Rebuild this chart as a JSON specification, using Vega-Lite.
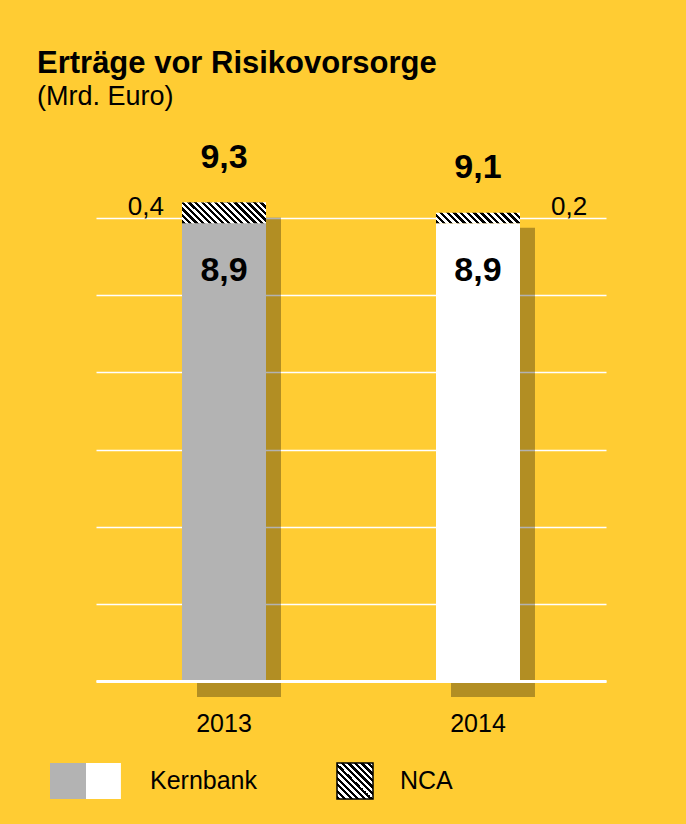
{
  "$schema": "https://vega.github.io/schema/vega-lite/v6.json",
  "autosize": {"type": "none"},
  "width": 510,
  "height": 463,
  "padding": {"left": 96, "top": 218, "right": 80, "bottom": 143},
  "background": "#FFCC33",
  "config": {"view": {"stroke": null}, "font": "Liberation Sans"},
  "title": {"text": "Erträge vor Risikovorsorge", "subtitle": "(Mrd. Euro)", "anchor": "start", "frame": "group", "dx": -59, "offset": 30, "font": "Liberation Sans", "fontSize": 31, "fontWeight": "bold", "color": "#000", "subtitleFont": "Liberation Sans", "subtitleFontSize": 27, "subtitleColor": "#000", "subtitlePadding": 4},
  "datasets": {
    "seg": [
      {"year": "2013", "segment": "Kernbank", "start": 0, "end": 8.9, "label": "8,9"},
      {"year": "2013", "segment": "NCA", "start": 8.9, "end": 9.3, "label": "0,4"},
      {"year": "2014", "segment": "Kernbank", "start": 0, "end": 8.9, "label": "8,9"},
      {"year": "2014", "segment": "NCA", "start": 8.9, "end": 9.1, "label": "0,2"}
    ],
    "tot": [
      {"year": "2013", "total": 9.3, "label": "9,3"},
      {"year": "2014", "total": 9.1, "label": "9,1"}
    ]
  },
  "encoding": {
    "x": {"field": "year", "type": "nominal", "scale": {"paddingInner": 0.6693, "paddingOuter": 0.3386},
      "axis": {"title": null, "ticks": false, "tickSize": 0, "domain": true, "domainColor": "#FFFFFF", "domainWidth": 3, "labelFontSize": 25, "labelFont": "Liberation Sans", "labelColor": "#000", "labelPadding": 50, "labelBaseline": "alphabetic", "labelAngle": 0, "zindex": 1, "grid": false}}
  },
  "layer": [
    {
      "data": {"name": "tot"},
      "mark": {"type": "bar", "fill": "#000", "fillOpacity": 0.3, "xOffset": 15, "x2Offset": 15, "yOffset": 15, "y2Offset": 16},
      "encoding": {
        "y": {"field": "total", "type": "quantitative", "scale": {"domain": [0, 9], "nice": false},
          "axis": {"title": null, "grid": true, "gridColor": "#FFFFFF", "gridWidth": 1.5, "values": [0, 1.5, 3, 4.5, 6, 7.5, 9], "labels": false, "ticks": false, "domain": false}},
        "y2": {"datum": 0}
      }
    },
    {
      "data": {"name": "seg"},
      "transform": [{"filter": "datum.segment === 'Kernbank' && datum.year === '2013'"}],
      "mark": {"type": "bar", "strokeWidth": 0, "fill": {"gradient": "linear", "x1": 0, "y1": 0, "x2": 1, "y2": 0, "stops": [{"offset": 0, "color": "#B3B3B3"}, {"offset": 0.507, "color": "#B3B3B3"}, {"offset": 0.507, "color": "#FFFFFF"}, {"offset": 1, "color": "#FFFFFF"}]}},
      "encoding": {
        "y": {"field": "end", "type": "quantitative"},
        "y2": {"field": "start"},
        "strokeDash": {"field": "segment", "type": "nominal",
          "scale": {"domain": ["Kernbank"], "range": [[1, 0]]},
          "legend": {"orient": "none", "legendX": -47, "legendY": 544, "title": null, "direction": "horizontal", "padding": 0,
            "symbolType": "M-1,-1H2.94V1H-1Z", "symbolSize": 1296, "labelFontSize": 25, "labelFont": "Liberation Sans", "labelColor": "#000", "labelOffset": 63,
            "encode": {"symbols": {"update": {"strokeWidth": {"value": 0}, "opacity": {"value": 1}}}}}
        }
      }
    },
    {
      "data": {"name": "seg"},
      "transform": [{"filter": "datum.segment === 'NCA' && datum.year === '2013'"}],
      "mark": {"type": "bar", "strokeWidth": 0, "fill": {"gradient": "linear", "x1": 0, "y1": 1, "x2": 1, "y2": 0, "stops": [
              {"offset":0,"color":"#000"},{"offset":0.0455,"color":"#000"},{"offset":0.0455,"color":"#fff"},{"offset":0.0909,"color":"#fff"},
              {"offset":0.0909,"color":"#000"},{"offset":0.1364,"color":"#000"},{"offset":0.1364,"color":"#fff"},{"offset":0.1818,"color":"#fff"},
              {"offset":0.1818,"color":"#000"},{"offset":0.2273,"color":"#000"},{"offset":0.2273,"color":"#fff"},{"offset":0.2727,"color":"#fff"},
              {"offset":0.2727,"color":"#000"},{"offset":0.3182,"color":"#000"},{"offset":0.3182,"color":"#fff"},{"offset":0.3636,"color":"#fff"},
              {"offset":0.3636,"color":"#000"},{"offset":0.4091,"color":"#000"},{"offset":0.4091,"color":"#fff"},{"offset":0.4545,"color":"#fff"},
              {"offset":0.4545,"color":"#000"},{"offset":0.5,"color":"#000"},{"offset":0.5,"color":"#fff"},{"offset":0.5455,"color":"#fff"},
              {"offset":0.5455,"color":"#000"},{"offset":0.5909,"color":"#000"},{"offset":0.5909,"color":"#fff"},{"offset":0.6364,"color":"#fff"},
              {"offset":0.6364,"color":"#000"},{"offset":0.6818,"color":"#000"},{"offset":0.6818,"color":"#fff"},{"offset":0.7273,"color":"#fff"},
              {"offset":0.7273,"color":"#000"},{"offset":0.7727,"color":"#000"},{"offset":0.7727,"color":"#fff"},{"offset":0.8182,"color":"#fff"},
              {"offset":0.8182,"color":"#000"},{"offset":0.8636,"color":"#000"},{"offset":0.8636,"color":"#fff"},{"offset":0.9091,"color":"#fff"},
              {"offset":0.9091,"color":"#000"},{"offset":0.9545,"color":"#000"},{"offset":0.9545,"color":"#fff"},{"offset":1,"color":"#fff"}]}},
      "encoding": {
        "y": {"field": "end", "type": "quantitative"},
        "y2": {"field": "start"},
        "stroke": {"field": "segment", "type": "nominal",
          "scale": {"domain": ["NCA"], "range": ["#000000"]},
          "legend": {"orient": "none", "legendX": 240, "legendY": 544, "title": null, "direction": "horizontal", "padding": 0,
            "symbolType": "square", "symbolSize": 1296, "labelFontSize": 25, "labelFont": "Liberation Sans", "labelColor": "#000", "labelOffset": 26,
            "encode": {"symbols": {"update": {"strokeWidth": {"value": 0}, "opacity": {"value": 1}}}}}
        }
      }
    },
    {
      "data": {"name": "seg"},
      "transform": [{"filter": "datum.segment === 'Kernbank' && datum.year === '2013'"}],
      "mark": {"type": "bar", "strokeWidth": 0, "fill": "#B3B3B3"},
      "encoding": {
        "y": {"field": "end", "type": "quantitative"},
        "y2": {"field": "start"}
      }
    },
    {
      "data": {"name": "seg"},
      "transform": [{"filter": "datum.segment === 'Kernbank' && datum.year === '2014'"}],
      "mark": {"type": "bar", "strokeWidth": 0, "fill": "#FFFFFF"},
      "encoding": {
        "y": {"field": "end", "type": "quantitative"},
        "y2": {"field": "start"}
      }
    },
    {
      "data": {"name": "seg"},
      "transform": [{"filter": "datum.segment === 'NCA' && datum.year === '2013'"}],
      "mark": {"type": "bar", "strokeWidth": 0, "fill": {"gradient": "linear", "x1": 0, "y1": 1, "x2": 1.1745, "y2": 0.7122, "stops": [
            {"offset":0,"color":"#000"},{"offset":0.03125,"color":"#000"},{"offset":0.03125,"color":"#fff"},{"offset":0.0625,"color":"#fff"},
            {"offset":0.0625,"color":"#000"},{"offset":0.09375,"color":"#000"},{"offset":0.09375,"color":"#fff"},{"offset":0.125,"color":"#fff"},
            {"offset":0.125,"color":"#000"},{"offset":0.15625,"color":"#000"},{"offset":0.15625,"color":"#fff"},{"offset":0.1875,"color":"#fff"},
            {"offset":0.1875,"color":"#000"},{"offset":0.21875,"color":"#000"},{"offset":0.21875,"color":"#fff"},{"offset":0.25,"color":"#fff"},
            {"offset":0.25,"color":"#000"},{"offset":0.28125,"color":"#000"},{"offset":0.28125,"color":"#fff"},{"offset":0.3125,"color":"#fff"},
            {"offset":0.3125,"color":"#000"},{"offset":0.34375,"color":"#000"},{"offset":0.34375,"color":"#fff"},{"offset":0.375,"color":"#fff"},
            {"offset":0.375,"color":"#000"},{"offset":0.40625,"color":"#000"},{"offset":0.40625,"color":"#fff"},{"offset":0.4375,"color":"#fff"},
            {"offset":0.4375,"color":"#000"},{"offset":0.46875,"color":"#000"},{"offset":0.46875,"color":"#fff"},{"offset":0.5,"color":"#fff"},
            {"offset":0.5,"color":"#000"},{"offset":0.53125,"color":"#000"},{"offset":0.53125,"color":"#fff"},{"offset":0.5625,"color":"#fff"},
            {"offset":0.5625,"color":"#000"},{"offset":0.59375,"color":"#000"},{"offset":0.59375,"color":"#fff"},{"offset":0.625,"color":"#fff"},
            {"offset":0.625,"color":"#000"},{"offset":0.65625,"color":"#000"},{"offset":0.65625,"color":"#fff"},{"offset":0.6875,"color":"#fff"},
            {"offset":0.6875,"color":"#000"},{"offset":0.71875,"color":"#000"},{"offset":0.71875,"color":"#fff"},{"offset":0.75,"color":"#fff"},
            {"offset":0.75,"color":"#000"},{"offset":0.78125,"color":"#000"},{"offset":0.78125,"color":"#fff"},{"offset":0.8125,"color":"#fff"},
            {"offset":0.8125,"color":"#000"},{"offset":0.84375,"color":"#000"},{"offset":0.84375,"color":"#fff"},{"offset":0.875,"color":"#fff"},
            {"offset":0.875,"color":"#000"},{"offset":0.90625,"color":"#000"},{"offset":0.90625,"color":"#fff"},{"offset":0.9375,"color":"#fff"},
            {"offset":0.9375,"color":"#000"},{"offset":0.96875,"color":"#000"},{"offset":0.96875,"color":"#fff"},{"offset":1,"color":"#fff"}]}},
      "encoding": {
        "y": {"field": "end", "type": "quantitative"},
        "y2": {"field": "start"}
      }
    },
    {
      "data": {"name": "seg"},
      "transform": [{"filter": "datum.segment === 'NCA' && datum.year === '2014'"}],
      "mark": {"type": "bar", "strokeWidth": 0, "fill": {"gradient": "linear", "x1": 0, "y1": 1, "x2": 1.1059, "y2": 0.8645, "stops": [
            {"offset":0,"color":"#000"},{"offset":0.0357,"color":"#000"},{"offset":0.0357,"color":"#fff"},{"offset":0.0714,"color":"#fff"},
            {"offset":0.0714,"color":"#000"},{"offset":0.1071,"color":"#000"},{"offset":0.1071,"color":"#fff"},{"offset":0.1429,"color":"#fff"},
            {"offset":0.1429,"color":"#000"},{"offset":0.1786,"color":"#000"},{"offset":0.1786,"color":"#fff"},{"offset":0.2143,"color":"#fff"},
            {"offset":0.2143,"color":"#000"},{"offset":0.25,"color":"#000"},{"offset":0.25,"color":"#fff"},{"offset":0.2857,"color":"#fff"},
            {"offset":0.2857,"color":"#000"},{"offset":0.3214,"color":"#000"},{"offset":0.3214,"color":"#fff"},{"offset":0.3571,"color":"#fff"},
            {"offset":0.3571,"color":"#000"},{"offset":0.3929,"color":"#000"},{"offset":0.3929,"color":"#fff"},{"offset":0.4286,"color":"#fff"},
            {"offset":0.4286,"color":"#000"},{"offset":0.4643,"color":"#000"},{"offset":0.4643,"color":"#fff"},{"offset":0.5,"color":"#fff"},
            {"offset":0.5,"color":"#000"},{"offset":0.5357,"color":"#000"},{"offset":0.5357,"color":"#fff"},{"offset":0.5714,"color":"#fff"},
            {"offset":0.5714,"color":"#000"},{"offset":0.6071,"color":"#000"},{"offset":0.6071,"color":"#fff"},{"offset":0.6429,"color":"#fff"},
            {"offset":0.6429,"color":"#000"},{"offset":0.6786,"color":"#000"},{"offset":0.6786,"color":"#fff"},{"offset":0.7143,"color":"#fff"},
            {"offset":0.7143,"color":"#000"},{"offset":0.75,"color":"#000"},{"offset":0.75,"color":"#fff"},{"offset":0.7857,"color":"#fff"},
            {"offset":0.7857,"color":"#000"},{"offset":0.8214,"color":"#000"},{"offset":0.8214,"color":"#fff"},{"offset":0.8571,"color":"#fff"},
            {"offset":0.8571,"color":"#000"},{"offset":0.8929,"color":"#000"},{"offset":0.8929,"color":"#fff"},{"offset":0.9286,"color":"#fff"},
            {"offset":0.9286,"color":"#000"},{"offset":0.9643,"color":"#000"},{"offset":0.9643,"color":"#fff"},{"offset":1,"color":"#fff"}]}},
      "encoding": {
        "y": {"field": "end", "type": "quantitative"},
        "y2": {"field": "start"}
      }
    },
    {
      "data": {"name": "seg"},
      "transform": [{"filter": "datum.segment === 'Kernbank'"}],
      "mark": {"type": "text", "fontSize": 34, "fontWeight": "bold", "baseline": "alphabetic", "dy": 58, "fill": "#000", "font": "Liberation Sans"},
      "encoding": {"y": {"field": "end", "type": "quantitative"}, "text": {"field": "label"}}
    },
    {
      "data": {"name": "seg"},
      "transform": [{"filter": "datum.segment === 'NCA' && datum.year === '2013'"}],
      "mark": {"type": "text", "fontSize": 26, "baseline": "alphabetic", "align": "right", "dx": -18, "dy": -8, "fill": "#000", "font": "Liberation Sans"},
      "encoding": {"x": {"field": "year", "type": "nominal", "bandPosition": 0}, "y": {"field": "start", "type": "quantitative"}, "text": {"field": "label"}}
    },
    {
      "data": {"name": "seg"},
      "transform": [{"filter": "datum.segment === 'NCA' && datum.year === '2014'"}],
      "mark": {"type": "text", "fontSize": 26, "baseline": "alphabetic", "align": "left", "dx": 31, "dy": -8, "fill": "#000", "font": "Liberation Sans"},
      "encoding": {"x": {"field": "year", "type": "nominal", "bandPosition": 1}, "y": {"field": "start", "type": "quantitative"}, "text": {"field": "label"}}
    },
    {
      "data": {"name": "tot"},
      "mark": {"type": "text", "fontSize": 34, "fontWeight": "bold", "baseline": "alphabetic", "dy": -35, "fill": "#000", "font": "Liberation Sans"},
      "encoding": {"y": {"field": "total", "type": "quantitative"}, "text": {"field": "label"}}
    }
  ]
}
